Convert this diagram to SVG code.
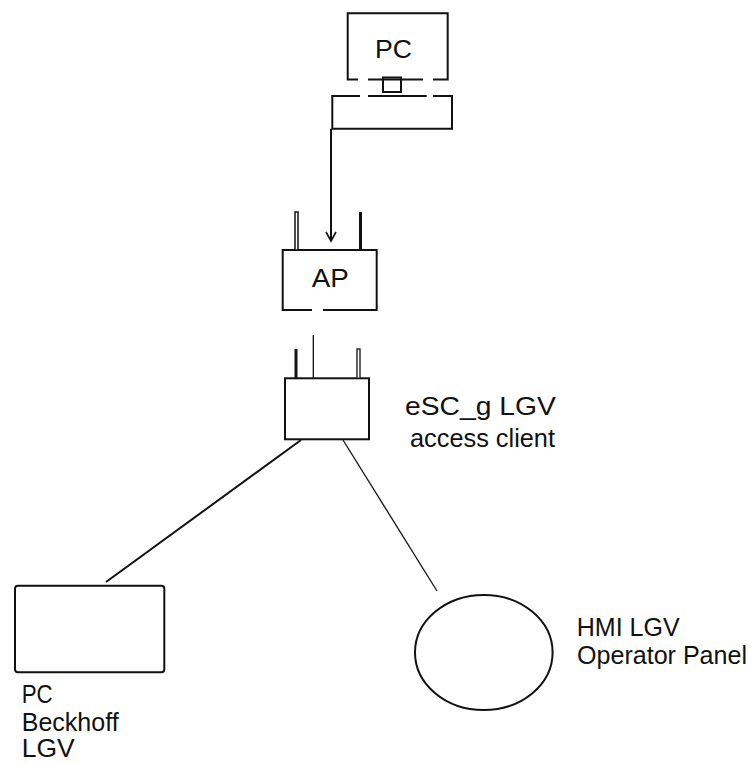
<svg xmlns="http://www.w3.org/2000/svg" width="754" height="765" viewBox="0 0 754 765">
<style>
.s{fill:none;stroke:#111;stroke-width:2}
.t{stroke:#111;stroke-width:1.3;fill:none}
.lbl{font-family:"Liberation Sans",Arial,sans-serif;font-size:25px;fill:#111}
</style>
<defs>
<marker id="ah" markerWidth="14" markerHeight="14" refX="10" refY="6" orient="auto" markerUnits="userSpaceOnUse">
<path d="M1,1 L10,6 L1,11" fill="none" stroke="#111" stroke-width="1.6"/>
</marker>
</defs>
<rect width="754" height="765" fill="#fff"/>

<g id="pc-top">
<path class="s" d="M358,79.5 H347.7 V13.3 H447.7 V79.5 H433 M368,79.5 H423"/>
<rect class="s" x="383" y="77.5" width="18" height="14.5" fill="#fff"/>
<path class="s" d="M360,96 H332.3 V128.8 H452 V96 H433 M368,96 H426.7"/>
<text class="lbl" x="375" y="58.3" font-size="26" textLength="37" lengthAdjust="spacingAndGlyphs">PC</text>
</g>

<g id="ap">
<path class="s" d="M312,310 H282.7 V250 H376.7 V310 H323"/>
<rect x="295" y="212" width="3" height="38" fill="#fff" stroke="#111" stroke-width="1.5"/>
<rect x="359" y="212" width="3" height="38" fill="#111"/>
<text class="lbl" x="311.7" y="286.7" textLength="37" lengthAdjust="spacingAndGlyphs">AP</text>
</g>

<g id="client">
<rect class="s" x="285" y="378.3" width="84" height="61"/>
<rect x="294.5" y="349" width="3" height="29.3" fill="#111"/>
<rect x="357" y="349" width="3" height="29.3" fill="#fff" stroke="#111" stroke-width="1.3"/>
<text class="lbl" x="405" y="415" textLength="151" lengthAdjust="spacingAndGlyphs">eSC_g LGV</text>
<text class="lbl" x="410" y="446.7" textLength="145" lengthAdjust="spacingAndGlyphs">access client</text>
</g>

<g id="pc-beckhoff">
<rect class="s" x="15" y="585.7" width="149.3" height="86.6" rx="3"/>
<text class="lbl" x="21.7" y="703" textLength="31" lengthAdjust="spacingAndGlyphs">PC</text>
<text class="lbl" x="21.7" y="731" textLength="97" lengthAdjust="spacingAndGlyphs">Beckhoff</text>
<text class="lbl" x="21.7" y="757" textLength="53" lengthAdjust="spacingAndGlyphs">LGV</text>
</g>

<g id="hmi">
<ellipse class="s" cx="483.8" cy="652.5" rx="68.8" ry="57.5"/>
<text class="lbl" x="576.7" y="636" textLength="103" lengthAdjust="spacingAndGlyphs">HMI LGV</text>
<text class="lbl" x="577" y="664" textLength="170" lengthAdjust="spacingAndGlyphs">Operator Panel</text>
</g>

<g id="connectors">
<line class="s" x1="331" y1="128.8" x2="331" y2="241" marker-end="url(#ah)" stroke-width="1.6"/>
<line class="t" x1="313.3" y1="335" x2="313.3" y2="378.3"/>
<line class="s" x1="301" y1="440" x2="106" y2="582"/>
<line class="t" x1="343" y1="440" x2="437" y2="591"/>
</g>
</svg>
